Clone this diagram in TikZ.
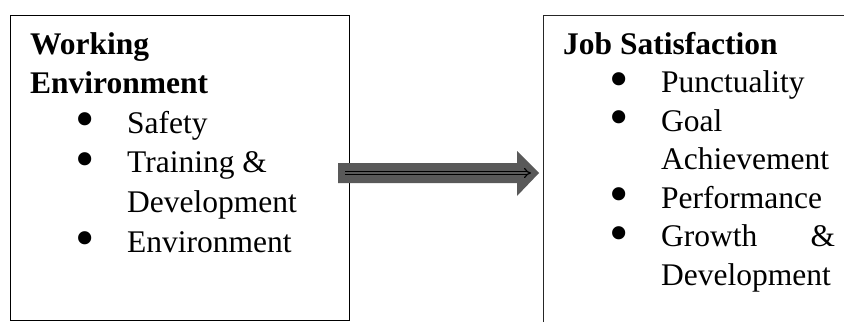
\documentclass[tikz,border=0pt]{standalone}
\usepackage{fontspec}
\setmainfont{Liberation Serif}
\usetikzlibrary{arrows.meta}
\definecolor{arrowgray}{HTML}{595959}
\newcommand\bul[1]{\hspace*{#1}\makebox[0pt]{\raisebox{-4.5pt}{\scalebox{1.75}{•}}}}
\tikzset{
  boxline/.style={draw=black, line width=0.8pt},
  txt/.style={inner sep=0pt, anchor=base west, align=left},
  bigarrow/.style={fill=arrowgray, draw=none},
}
\begin{document}
\begin{tikzpicture}[x=1pt,y=-1pt]
\useasboundingbox (0,0) rectangle (844,322);
% left box
\draw[boxline] (10,15) rectangle (349,320);
\node[txt] (left) at (30,54) {\parbox[t]{310pt}{\fontsize{31.5}{39.6}\selectfont\raggedright
\textbf{Working}\\
\textbf{Environment}\\
\bul{55pt}\hspace*{42pt}Safety\\
\bul{55pt}\hspace*{42pt}Training \&\\
\hspace*{97pt}Development\\
\bul{55pt}\hspace*{42pt}Environment}};
% right box (only top and left edge visible)
\draw[boxline, draw=black!85] (543,322) -- (543,15) -- (846,15);
\node[txt] (right) at (563,54) {\parbox[t]{290pt}{\fontsize{31.5}{38.5}\selectfont\raggedright
\textbf{Job Satisfaction}\\
\bul{56pt}\hspace*{42pt}Punctuality\\
\bul{56pt}\hspace*{42pt}Goal\\
\hspace*{98pt}Achievement\\
\bul{56pt}\hspace*{42pt}Performance\\
\bul{56pt}\hspace*{42pt}\makebox[174pt][l]{Growth\hfill\&}\\
\hspace*{98pt}Development}};
% block arrow
\coordinate (a0) at (338,173);
\coordinate (a1) at (539,173);
\fill[bigarrow] (338,163) -- (517,163) -- (517,151) -- (a1) -- (517,196) -- (517,183) -- (338,183) -- cycle;
\draw[double=arrowgray, double distance=2.2pt, line width=1.2pt, -{Implies}] (345,173) -- (531,173);
\end{tikzpicture}
\end{document}
